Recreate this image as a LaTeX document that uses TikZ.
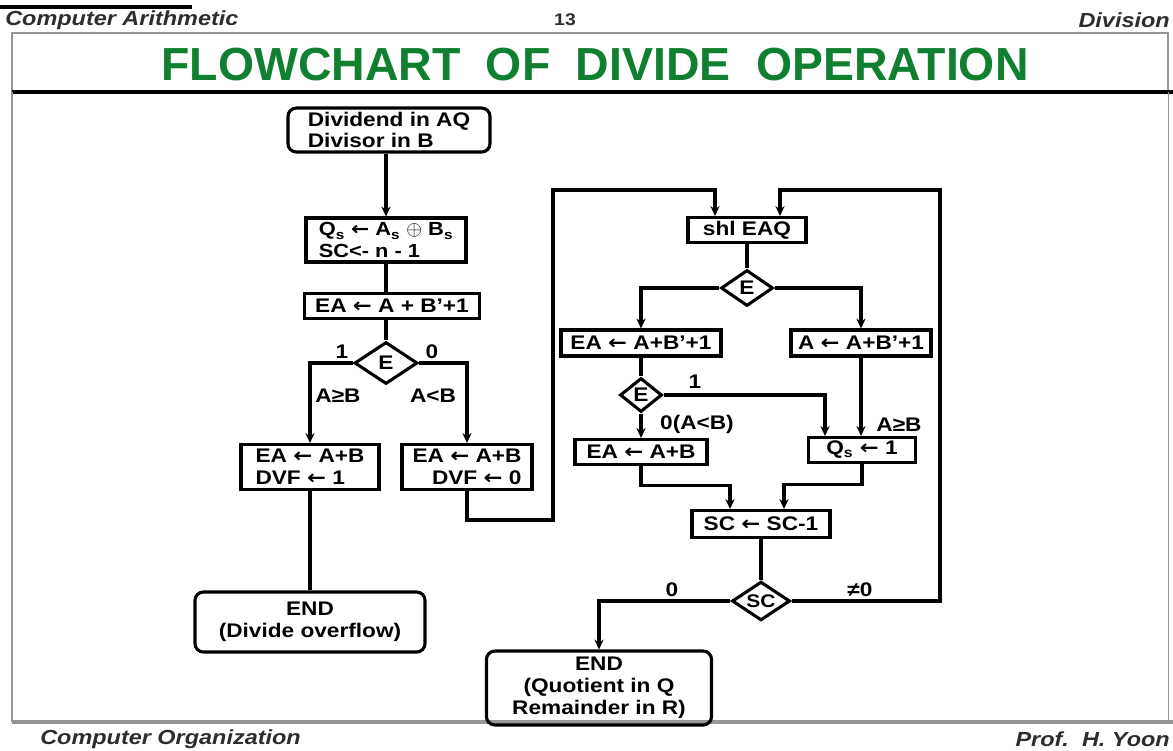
\documentclass[tikz,border=0pt]{standalone}
\usepackage{fontspec}
\setmainfont{Liberation Sans}[FakeStretch=1.15]
\newfontfamily\plainfont{Liberation Sans}
\newfontfamily\dvfont{DejaVu Sans}[FakeStretch=1.15]
\usetikzlibrary{shapes.geometric,arrows.meta,calc}
\definecolor{titlegreen}{RGB}{16,128,48}
\definecolor{hdrgray}{RGB}{45,45,45}
\definecolor{framegray}{RGB}{150,150,150}
\newcommand\myla{{\dvfont\bfseries ←}}
\newcommand\fl{\fontsize{14}{15.5}\selectfont\bfseries}
\tikzset{
  base/.style={draw, line width=2.2pt, font=\fl, inner sep=0pt, align=center},
  proc/.style={base, rectangle},
  term/.style={base, rectangle, rounded corners=6pt},
  dec/.style={base, diamond, aspect=1.6},
  arr/.style={line width=2.2pt, -{Stealth[length=7pt,width=6.5pt]}},
  ln/.style={line width=2.2pt},
  lbl/.style={font=\fl, inner sep=0pt},
  hdr/.style={font=\fontsize{14.5}{16}\selectfont\bfseries\itshape, text=hdrgray, inner sep=0pt}
}
\begin{document}
\begin{tikzpicture}[x=0.025cm,y=-0.025cm]
\useasboundingbox (0,0) rectangle (1173,751);
% top cut-off underline
\draw[line width=2.5pt] (0,7) -- (192,7);
% headers
\node[hdr, anchor=west] (h1) at (5,20) {Computer Arithmetic};
\node[hdr, font=\fontsize{12}{14}\selectfont\bfseries] (h2) at (565,20) {13};
\node[hdr, anchor=east] (h3) at (1170,20) {Division};
\node[hdr, anchor=west] (f1) at (40,739) {Computer Organization};
\node[hdr, anchor=east] (f2) at (1170,739) {Prof.\ \ H. Yoon};
% frame
\draw[framegray, line width=0.8pt] (12,92) -- (12,33) -- (1168,33) -- (1168,92);
\draw[line width=2.5pt] (12,92) -- (1173,92);
\draw[framegray, line width=1.2pt] (12,92) -- (12,722);
\draw[framegray, line width=0.6pt] (1168,92) -- (1168,722);
\draw[framegray, line width=2.5pt] (12,722) -- (1173,722);
% title
\node[inner sep=0pt, text=titlegreen, font=\plainfont\fontsize{33}{36}\selectfont\bfseries] (title) at (595,65)
  {FLOWCHART\hspace{0.55em}OF\hspace{0.55em}DIVIDE\hspace{0.55em}OPERATION};
% nodes
\node[term, align=left, minimum width=5.05cm, minimum height=1.1cm] (start) at (389,130)
  {Dividend in AQ\\Divisor in B};
\node[proc, align=left, minimum width=4cm, minimum height=1.1cm, font=\fontsize{13.5}{15}\selectfont\bfseries] (b2) at (386,240)
  {Q\textsubscript{s} \myla\ A\textsubscript{s} $\oplus$ B\textsubscript{s}\\SC<- n - 1};
\node[proc, minimum width=4.375cm, minimum height=0.625cm] (b3) at (392,306)
  {EA \myla\ A + B'+1};
\node[dec, minimum width=1.575cm, minimum height=1.05cm] (e1) at (386,363) {E};
\node[proc, align=left, minimum width=3.45cm, minimum height=1.125cm] (b4) at (310,467)
  {EA \myla\ A+B\\DVF \myla\ 1};
\node[proc, align=right, minimum width=3.25cm, minimum height=1.125cm] (b5) at (467,467)
  {EA \myla\ A+B\\DVF \myla\ 0};
\node[term, minimum width=5.75cm, minimum height=1.5cm] (end1) at (310,622)
  {END\\(Divide overflow)};
\node[proc, minimum width=2.95cm, minimum height=0.625cm] (shl) at (747,230) {shl EAQ};
\node[dec, minimum width=1.3cm, minimum height=0.9cm] (e2) at (747,288) {E};
\node[proc, minimum width=4cm, minimum height=0.65cm] (b6) at (641,343) {EA \myla\ A+B'+1};
\node[proc, minimum width=3.5cm, minimum height=0.65cm] (b7) at (861,343) {A \myla\ A+B'+1};
\node[dec, minimum width=1.05cm, minimum height=0.85cm] (e3) at (641,395) {E};
\node[proc, minimum width=3.3cm, minimum height=0.625cm] (b8) at (641,452) {EA \myla\ A+B};
\node[proc, minimum width=2.675cm, minimum height=0.625cm] (b9) at (862,450) {Q\textsubscript{s} \myla\ 1};
\node[proc, minimum width=3.45cm, minimum height=0.675cm] (sc) at (761,524) {SC \myla\ SC-1};
\node[dec, minimum width=1.45cm, minimum height=0.97cm, font=\fontsize{13}{14}\selectfont\bfseries] (scd) at (761,601) {SC};
\node[term, minimum width=5.625cm, minimum height=1.85cm] (end2) at (599,688)
  {END\\(Quotient in Q\\Remainder in R)};
% helper coordinates
\coordinate (lA) at (553,520);
\coordinate (lB) at (553,190);
\coordinate (rA) at (940,190);
% connectors left
\draw[arr] (start.south -| b2.north) -- (b2.north);
\draw[ln] (b2.south) -- (b2.south |- b3.north);
\draw[ln] (b2.south |- b3.south) -- (e1.north);
\draw[arr] (e1.west) -| (b4.north);
\draw[arr] (e1.east) -| (b5.north);
\draw[ln] (b4.south) -- (end1.north);
\draw[arr] (b5.south) |- (lA) -- (lB) -| ($(shl.north)+(-32,0)$);
% connectors right
\draw[ln] (shl.south) -- (e2.north);
\draw[arr] (e2.west) -| (b6.north);
\draw[arr] (e2.east) -| (b7.north);
\draw[ln] (b6.south) -- (e3.north);
\draw[arr] (e3.east) -| ($(b9.north)+(-37,0)$);
\draw[arr] (b7.south) -- (b7.south |- b9.north);
\draw[arr] (e3.south) -- (b8.north);
\draw[arr] (b8.south) -- ++(0,19) -| ($(sc.north)+(-31,0)$);
\draw[arr] (b9.south) -- ++(0,20) -| ($(sc.north)+(23,0)$);
\draw[ln] (sc.south) -- (scd.north);
\draw[arr] (scd.west) -| (end2.north);
\draw[arr] (scd.east) -| (rA) -| ($(shl.north)+(33,0)$);
% labels
\node[lbl] (l1) at (342,352) {1};
\node[lbl] (l0) at (432,352) {0};
\node[lbl] (lge) at (338,396) {A≥B};
\node[lbl] (llt) at (433,396) {A<B};
\node[lbl] (l3) at (695,382) {1};
\node[lbl] (l4) at (697,424) {0(A<B)};
\node[lbl] (l5) at (899,425) {A≥B};
\node[lbl] (l6) at (672,590) {0};
\node[lbl] (l7) at (860,590) {≠0};
\end{tikzpicture}
\end{document}
